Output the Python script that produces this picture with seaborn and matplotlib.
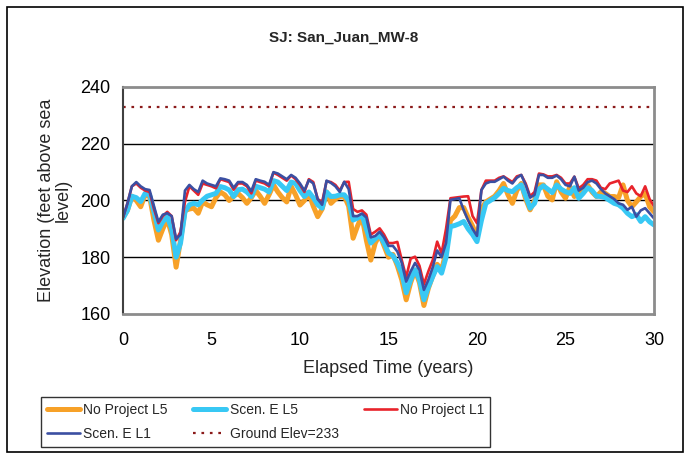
import numpy as np
import pandas as pd
import matplotlib
matplotlib.use("Agg")
import matplotlib.pyplot as plt
import seaborn as sns
from matplotlib.patches import Rectangle

sns.set_style("white")
plt.rcParams['font.family'] = ['Liberation Sans', 'DejaVu Sans']

# elapsed time grid (years)
elapsed_years = np.linspace(0, 30, 121)

no_project_l5 = [
    194, 196.5, 201.5, 200, 197.8, 202, 201.5, 193, 186, 190, 193.5, 188, 176.5, 186, 196.5, 197,
    197.3, 195.5, 199.5, 198.5, 197.8, 201, 203, 202, 200, 201.5, 202.5, 201, 199, 201, 203.5, 201.5,
    199, 202, 205.5, 203, 201, 199.5, 205, 202, 198.4, 200, 202.5, 198, 194.3, 197, 203, 199,
    200.5, 201.4, 201.5, 198, 186.7, 191, 194.5, 186, 179, 185, 188, 184, 180, 181, 177, 172,
    165, 171, 175.5, 171, 163, 169, 173.5, 177.5, 175.5, 182, 193, 194.5, 197.5, 197.5, 194, 191,
    187, 197, 199.5, 200.5, 201.5, 203.5, 206, 202, 199, 203.5, 206, 200.5, 196.7, 200, 205.5, 205.5,
    201.5, 200.2, 206.6, 203, 200.8, 204.9, 201.4, 202.5, 203.5, 205.5, 203, 201.4, 203, 202.5, 201.4, 201.4,
    201, 205.5, 200, 197.8, 199.5, 201.4, 202.5, 197.8, 196]

scen_e_l5 = [
    193.7, 196.5, 201.5, 201, 199.6, 202.5, 202, 196, 189.6, 192.5, 194.3, 190, 180, 185, 196, 198.5,
    199, 198.5, 200.2, 201.5, 202, 202.5, 204.9, 204.5, 203.7, 201.4, 203.8, 204, 203, 201.4, 205, 204.5,
    204, 203, 207, 206.5, 205, 203.5, 206.5, 206, 203.5, 201.4, 203, 201, 198.5, 197.3, 203, 201.4,
    201.5, 202, 202, 200, 193.1, 193.8, 194.9, 190, 185, 186.5, 187.8, 185, 181.5, 180.5, 178, 174.3,
    167.5, 172, 175.6, 172, 165, 169.5, 173.2, 176.7, 174.4, 180, 190.8, 191.2, 191.8, 192.6, 190, 188,
    185.5, 193, 199, 200, 201, 202.5, 204.3, 203.5, 203.1, 204.5, 205.5, 201.5, 197.3, 199, 204, 205.2,
    204, 202.8, 205.5, 204, 203.1, 202.5, 204.5, 200.8, 202.5, 204.5, 203.5, 201.5, 201.4, 201, 200, 199,
    198.5, 197.3, 195.5, 194.3, 195, 192.6, 194.3, 192.5, 191.4]

no_project_l1 = [
    194, 199, 205, 206, 204.5, 203.5, 203, 197, 192, 194.5, 196, 194.5, 186, 189, 199.5, 205,
    203.5, 202, 206, 205.5, 205, 204.3, 207.5, 207, 206.5, 203.8, 206, 206, 205, 202.5, 207, 206.5,
    206, 205, 209.8, 209, 208, 207, 208.8, 207.5, 205.5, 203, 207.5, 206.5, 200.5, 199.5, 206.8, 206.5,
    205.5, 203.5, 206.5, 206.6, 197, 196, 196.5, 195, 188, 189, 190.2, 188, 185, 185, 185.4, 179,
    173, 179.5, 180.2, 177, 170.5, 175, 179, 185.5, 181.4, 190, 200.8, 201, 201.2, 201.4, 201.5, 194.5,
    192, 203.7, 207, 207, 207, 208, 208.5, 207.5, 206.5, 208.5, 209, 206, 201.5, 203, 209.5, 209.2,
    208.5, 208.5, 209, 208, 206, 206, 208.4, 204.3, 205.5, 207.5, 207.5, 207, 204.5, 204, 206, 206.5,
    207, 203.5, 203, 205, 202.5, 201.5, 205, 200.5, 198]

scen_e_l1 = [
    194, 199, 205, 206.5, 205, 204, 203.7, 198, 192.5, 195, 195.5, 194.5, 186.5, 188, 203.5, 205.5,
    204, 203, 207, 206, 205.5, 205, 207.8, 207.5, 207, 204.5, 206.5, 206.5, 205.5, 203.3, 207.5, 207,
    206.6, 205.5, 210, 209.5, 208.5, 207.5, 209, 208, 206, 203.5, 207.2, 206, 200.5, 198.5, 207, 206.2,
    205, 203, 206.6, 204, 194.5, 194.5, 195.4, 194, 187, 187.5, 189, 187, 184, 184, 182, 178,
    171.4, 175, 178, 175.5, 168.5, 172, 176.5, 182.4, 180, 185, 200.2, 200.5, 200.8, 196.6, 193, 190,
    187.5, 203.7, 206, 206.6, 206.6, 207.5, 208.4, 207, 206, 208, 209, 205.5, 201, 202, 209, 209,
    208, 208, 208.8, 207.5, 205.5, 205, 208.4, 203.5, 204.5, 206.5, 207, 206, 204, 202.5, 201.5, 200.5,
    199, 198.5, 196.7, 197.8, 194.3, 196.5, 197.3, 195.5, 193.7]

ground_elev = 233

series_names = ["No Project L5", "Scen. E L5", "No Project L1", "Scen. E L1"]
series_values = [no_project_l5, scen_e_l5, no_project_l1, scen_e_l1]
series_colors = ["#F7A128", "#38C8F4", "#E8232B", "#3B4FA2"]
series_widths = [3.6, 3.6, 1.9, 1.9]

fig = plt.figure(figsize=(6.87, 4.55), dpi=100)
ax = fig.add_axes([123/687, 1-314/455, (654-123)/687, (314-87)/455])

for name, vals, col, lw in zip(series_names, series_values, series_colors, series_widths):
    df = pd.DataFrame({"t": elapsed_years, "y": vals})
    sns.lineplot(data=df, x="t", y="y", ax=ax, color=col, linewidth=lw, label=name)

gdf = pd.DataFrame({"t": [0, 30], "y": [ground_elev, ground_elev]})
sns.lineplot(data=gdf, x="t", y="y", ax=ax, color="#8B1A1A", linewidth=1.6,
             linestyle=(0, (1.2, 2.6)), label=f"Ground Elev={ground_elev}")

ax.set_xlim(0, 30)
ax.set_ylim(160, 240)
ax.set_xticks([0, 5, 10, 15, 20, 25, 30])
ax.set_yticks([160, 180, 200, 220, 240])
for yv in [180, 200, 220]:
    ax.axhline(yv, color="black", linewidth=1.0, zorder=0)
ax.tick_params(axis="both", labelsize=13, colors="black")
ax.tick_params(axis="x", length=0, pad=13)
ax.tick_params(axis="y", direction="out", length=4, width=1, pad=5)
ax.set_xlabel("Elapsed Time (years)", fontsize=13, labelpad=8)
ax.set_ylabel("Elevation (feet above sea\nlevel)", fontsize=13, labelpad=6, linespacing=1.0)
for side in ["top", "right", "bottom"]:
    ax.spines[side].set_color("#8C8C8C")
    ax.spines[side].set_linewidth(2)
ax.spines["left"].set_color("#404040")
ax.spines["left"].set_linewidth(1.5)

fig.text(0.5, 1-38/455, "SJ: San_Juan_MW-8", ha="center", va="center",
         fontsize=11, fontweight="bold")

handles, labels = ax.get_legend_handles_labels()
ax.get_legend().remove()
order = [0, 3, 1, 4, 2]
leg = fig.legend([handles[i] for i in order], [labels[i] for i in order],
                 loc="center left", bbox_to_anchor=(41/687, 1-422/455),
                 ncol=3, fontsize=10, frameon=True, fancybox=False, edgecolor="black",
                 handlelength=2.4, handletextpad=0.25, columnspacing=1.8, labelspacing=0.75,
                 borderpad=0.4, borderaxespad=0)
leg.get_frame().set_linewidth(1.0)

fig.patches.append(Rectangle((7/687, 3/455), 676/687, 445/455, transform=fig.transFigure,
                             fill=False, edgecolor="black", linewidth=1.2))

fig.savefig("out.png", dpi=100)
